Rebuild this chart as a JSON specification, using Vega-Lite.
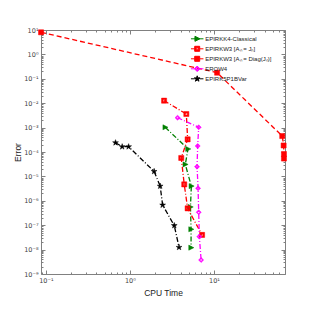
{
  "$schema": "https://vega.github.io/schema/vega-lite/v6.json",
  "width": 244,
  "height": 244,
  "autosize": {"type": "none"},
  "padding": {"left": 41, "top": 30, "right": 30, "bottom": 41},
  "background": "white",
  "config": {
    "view": {"stroke": "#808080", "strokeWidth": 1},
    "font": "Liberation Sans",
    "legend": {"padding": 0, "rowPadding": 0, "labelOffset": 5, "symbolSize": 25, "labelFontSize": 6, "labelFont": "Liberation Sans", "labelColor": "#222222", "labelLimit": 300, "symbolStrokeWidth": 1}
  },
  "datasets": {
    "runs": [
      {"s": "EPIRKK4-Classical", "i": 1, "t": 2.63, "e": 1.03e-3},
      {"s": "EPIRKK4-Classical", "i": 2, "t": 4.91, "e": 1.33e-4},
      {"s": "EPIRKK4-Classical", "i": 3, "t": 4.56, "e": 3.1e-5},
      {"s": "EPIRKK4-Classical", "i": 4, "t": 5.38, "e": 4.0e-6},
      {"s": "EPIRKK4-Classical", "i": 5, "t": 5.25, "e": 5.6e-7},
      {"s": "EPIRKK4-Classical", "i": 6, "t": 5.34, "e": 6.8e-8},
      {"s": "EPIRKK4-Classical", "i": 7, "t": 5.34, "e": 1.2e-8},
      {"s": "EPIRKW3 [Aₙ = Jₙ]", "i": 1, "t": 2.55, "e": 1.27e-2},
      {"s": "EPIRKW3 [Aₙ = Jₙ]", "i": 2, "t": 4.69, "e": 3.6e-3},
      {"s": "EPIRKW3 [Aₙ = Jₙ]", "i": 3, "t": 4.86, "e": 3.3e-4},
      {"s": "EPIRKW3 [Aₙ = Jₙ]", "i": 4, "t": 4.08, "e": 5.7e-5},
      {"s": "EPIRKW3 [Aₙ = Jₙ]", "i": 5, "t": 4.43, "e": 4.7e-6},
      {"s": "EPIRKW3 [Aₙ = Jₙ]", "i": 6, "t": 4.86, "e": 4.9e-7},
      {"s": "EPIRKW3 [Aₙ = Jₙ]", "i": 7, "t": 7.22, "e": 4.0e-8},
      {"s": "EPIRKW3 [Aₙ = Diag(Jₙ)]", "i": 1, "t": 0.0876, "e": 8.05},
      {"s": "EPIRKW3 [Aₙ = Diag(Jₙ)]", "i": 2, "t": 10.9, "e": 0.178},
      {"s": "EPIRKW3 [Aₙ = Diag(Jₙ)]", "i": 3, "t": 64.9, "e": 4.5e-4},
      {"s": "EPIRKW3 [Aₙ = Diag(Jₙ)]", "i": 4, "t": 67.4, "e": 1.85e-4},
      {"s": "EPIRKW3 [Aₙ = Diag(Jₙ)]", "i": 5, "t": 68, "e": 8.3e-5},
      {"s": "EPIRKW3 [Aₙ = Diag(Jₙ)]", "i": 6, "t": 68, "e": 5.4e-5},
      {"s": "EROW4", "i": 1, "t": 3.69, "e": 2.55e-3},
      {"s": "EROW4", "i": 2, "t": 6.58, "e": 1.03e-3},
      {"s": "EROW4", "i": 3, "t": 6.40, "e": 1.76e-4},
      {"s": "EROW4", "i": 4, "t": 6.29, "e": 2.5e-5},
      {"s": "EROW4", "i": 5, "t": 6.47, "e": 3.25e-6},
      {"s": "EROW4", "i": 6, "t": 6.58, "e": 3.4e-7},
      {"s": "EROW4", "i": 7, "t": 6.70, "e": 3.4e-8},
      {"s": "EROW4", "i": 8, "t": 7.03, "e": 3.75e-9},
      {"s": "EPIRK5P1BVar", "i": 1, "t": 0.674, "e": 2.4e-4},
      {"s": "EPIRK5P1BVar", "i": 2, "t": 0.809, "e": 1.65e-4},
      {"s": "EPIRK5P1BVar", "i": 3, "t": 0.965, "e": 1.65e-4},
      {"s": "EPIRK5P1BVar", "i": 4, "t": 1.94, "e": 1.6e-5},
      {"s": "EPIRK5P1BVar", "i": 5, "t": 2.29, "e": 4.0e-6},
      {"s": "EPIRK5P1BVar", "i": 6, "t": 2.45, "e": 6.7e-7},
      {"s": "EPIRK5P1BVar", "i": 7, "t": 3.37, "e": 9.7e-8},
      {"s": "EPIRK5P1BVar", "i": 8, "t": 3.84, "e": 1.24e-8}
    ]
  },
  "data": {"name": "runs"},
  "layer": [
    {
      "mark": {"type": "line", "strokeWidth": 1.3, "clip": false},
      "encoding": {
        "x": {
          "field": "t", "type": "quantitative",
          "scale": {"type": "log", "domain": [0.0875, 70], "nice": false},
          "axis": {
            "orient": "bottom",
            "values": [0.09, 0.1, 0.2, 0.3, 0.4, 0.5, 0.6, 0.7, 0.8, 0.9, 1, 2, 3, 4, 5, 6, 7, 8, 9, 10, 20, 30, 40, 50, 60, 70],
            "labelExpr": "abs(log(datum.value)/LN10 - round(log(datum.value)/LN10)) < 0.001 ? '10' + (round(log(datum.value)/LN10) < 0 ? '⁻' : '') + ['⁰','¹','²','³','⁴','⁵','⁶','⁷','⁸','⁹'][abs(round(log(datum.value)/LN10))] : ''",
            "tickSize": {"condition": {"test": "abs(log(datum.value)/LN10 - round(log(datum.value)/LN10)) < 0.001", "value": -4}, "value": -2},
            "tickColor": "#808080",
            "domain": false, "grid": false,
            "labelFont": "DejaVu Sans", "labelFontSize": 6.5, "labelColor": "#444444",
            "labelPadding": 7, "labelOverlap": false, "labelFlush": false,
            "title": "CPU Time", "titleFontSize": 8.5, "titleFontWeight": "normal", "titleColor": "#222222", "titlePadding": 3
          }
        },
        "y": {
          "field": "e", "type": "quantitative",
          "scale": {"type": "log", "domain": [1e-9, 10], "nice": false},
          "axis": {
            "orient": "left",
            "values": [1e-9, 2e-9, 3e-9, 4e-9, 5e-9, 6e-9, 7e-9, 8e-9, 9e-9, 1e-8, 2e-8, 3e-8, 4e-8, 5e-8, 6e-8, 7e-8, 8e-8, 9e-8, 1e-7, 2e-7, 3e-7, 4e-7, 5e-7, 6e-7, 7e-7, 8e-7, 9e-7, 1e-6, 2e-6, 3e-6, 4e-6, 5e-6, 6e-6, 7e-6, 8e-6, 9e-6, 1e-5, 2e-5, 3e-5, 4e-5, 5e-5, 6e-5, 7e-5, 8e-5, 9e-5, 1e-4, 2e-4, 3e-4, 4e-4, 5e-4, 6e-4, 7e-4, 8e-4, 9e-4, 1e-3, 2e-3, 3e-3, 4e-3, 5e-3, 6e-3, 7e-3, 8e-3, 9e-3, 1e-2, 2e-2, 3e-2, 4e-2, 5e-2, 6e-2, 7e-2, 8e-2, 9e-2, 0.1, 0.2, 0.3, 0.4, 0.5, 0.6, 0.7, 0.8, 0.9, 1, 2, 3, 4, 5, 6, 7, 8, 9, 10],
            "labelExpr": "abs(log(datum.value)/LN10 - round(log(datum.value)/LN10)) < 0.001 ? '10' + (round(log(datum.value)/LN10) < 0 ? '⁻' : '') + ['⁰','¹','²','³','⁴','⁵','⁶','⁷','⁸','⁹'][abs(round(log(datum.value)/LN10))] : ''",
            "tickSize": {"condition": {"test": "abs(log(datum.value)/LN10 - round(log(datum.value)/LN10)) < 0.001", "value": -4}, "value": -2},
            "tickColor": "#808080",
            "domain": false, "grid": false,
            "labelFont": "DejaVu Sans", "labelFontSize": 6.5, "labelColor": "#444444",
            "labelPadding": 7, "labelOverlap": false, "labelFlush": false,
            "title": "Error", "titleFontSize": 8.5, "titleFontWeight": "normal", "titleColor": "#222222", "titlePadding": 1
          }
        },
        "order": {"field": "i", "type": "quantitative"},
        "color": {
          "field": "s", "type": "nominal", "legend": null,
          "scale": {"domain": ["EPIRKK4-Classical", "EPIRKW3 [Aₙ = Jₙ]", "EPIRKW3 [Aₙ = Diag(Jₙ)]", "EROW4", "EPIRK5P1BVar"], "range": ["#008000", "#ff0000", "#ff0000", "#ff00ff", "#000000"]}
        },
        "strokeDash": {
          "field": "s", "type": "nominal", "legend": null,
          "scale": {"domain": ["EPIRKK4-Classical", "EPIRKW3 [Aₙ = Jₙ]", "EPIRKW3 [Aₙ = Diag(Jₙ)]", "EROW4", "EPIRK5P1BVar"], "range": [[5, 2, 1, 2], [5, 2, 1, 2], [5, 3], [5, 2, 1, 2], [5, 2, 1, 2]]}
        }
      }
    },
    {
      "mark": {"type": "point", "filled": true, "opacity": 1, "strokeWidth": 0.5, "clip": false},
      "encoding": {
        "x": {
          "field": "t", "type": "quantitative",
          "axis": {
            "orient": "top",
            "values": [0.09, 0.1, 0.2, 0.3, 0.4, 0.5, 0.6, 0.7, 0.8, 0.9, 1, 2, 3, 4, 5, 6, 7, 8, 9, 10, 20, 30, 40, 50, 60, 70],
            "labels": false, "title": null, "domain": false, "grid": false, "tickColor": "#808080",
            "tickSize": {"condition": {"test": "abs(log(datum.value)/LN10 - round(log(datum.value)/LN10)) < 0.001", "value": -4}, "value": -2}
          }
        },
        "y": {
          "field": "e", "type": "quantitative",
          "axis": {
            "orient": "right",
            "values": [1e-9, 2e-9, 3e-9, 4e-9, 5e-9, 6e-9, 7e-9, 8e-9, 9e-9, 1e-8, 2e-8, 3e-8, 4e-8, 5e-8, 6e-8, 7e-8, 8e-8, 9e-8, 1e-7, 2e-7, 3e-7, 4e-7, 5e-7, 6e-7, 7e-7, 8e-7, 9e-7, 1e-6, 2e-6, 3e-6, 4e-6, 5e-6, 6e-6, 7e-6, 8e-6, 9e-6, 1e-5, 2e-5, 3e-5, 4e-5, 5e-5, 6e-5, 7e-5, 8e-5, 9e-5, 1e-4, 2e-4, 3e-4, 4e-4, 5e-4, 6e-4, 7e-4, 8e-4, 9e-4, 1e-3, 2e-3, 3e-3, 4e-3, 5e-3, 6e-3, 7e-3, 8e-3, 9e-3, 1e-2, 2e-2, 3e-2, 4e-2, 5e-2, 6e-2, 7e-2, 8e-2, 9e-2, 0.1, 0.2, 0.3, 0.4, 0.5, 0.6, 0.7, 0.8, 0.9, 1, 2, 3, 4, 5, 6, 7, 8, 9, 10],
            "labels": false, "title": null, "domain": false, "grid": false, "tickColor": "#808080",
            "tickSize": {"condition": {"test": "abs(log(datum.value)/LN10 - round(log(datum.value)/LN10)) < 0.001", "value": -4}, "value": -2}
          }
        },
        "fill": {
          "field": "s", "type": "nominal", "legend": null,
          "scale": {"domain": ["EPIRKK4-Classical", "EPIRKW3 [Aₙ = Jₙ]", "EPIRKW3 [Aₙ = Diag(Jₙ)]", "EROW4", "EPIRK5P1BVar"], "range": ["#008000", "#ff0000", "#ff0000", "#ff00ff", "#000000"]}
        },
        "stroke": {
          "field": "s", "type": "nominal", "legend": null,
          "scale": {"domain": ["EPIRKK4-Classical", "EPIRKW3 [Aₙ = Jₙ]", "EPIRKW3 [Aₙ = Diag(Jₙ)]", "EROW4", "EPIRK5P1BVar"], "range": ["#008000", "#ff0000", "#ff0000", "#ff00ff", "#000000"]}
        },
        "shape": {
          "field": "s", "type": "nominal", "legend": null,
          "scale": {"domain": ["EPIRKK4-Classical", "EPIRKW3 [Aₙ = Jₙ]", "EPIRKW3 [Aₙ = Diag(Jₙ)]", "EROW4", "EPIRK5P1BVar"],
            "range": [
              "M-0.9,-1L1.1,0L-0.9,1Z",
              "M-1,-1L1,-1L1,1L-1,1ZM-0.35,-0.35L-0.35,0.35L0.35,0.35L0.35,-0.35Z",
              "M-1,-1L1,-1L1,1L-1,1Z",
              "M0,-1L1,0L0,1L-1,0ZM0,-0.45L-0.45,0L0,0.45L0.45,0Z",
              "M0,-1.2L0.27,-0.37L1.14,-0.37L0.44,0.14L0.71,0.97L0,0.46L-0.71,0.97L-0.44,0.14L-1.14,-0.37L-0.27,-0.37Z"
            ]}
        },
        "size": {"value": 26}
      }
    },
    {
      "transform": [{"filter": "false"}],
      "mark": {"type": "point", "filled": true, "opacity": 1, "strokeWidth": 1},
      "encoding": {
        "fill": {
          "field": "s", "type": "nominal",
          "scale": {"domain": ["EPIRKK4-Classical", "EPIRKW3 [Aₙ = Jₙ]", "EPIRKW3 [Aₙ = Diag(Jₙ)]", "EROW4", "EPIRK5P1BVar"], "range": ["#008000", "#ff0000", "#ff0000", "#ff00ff", "#000000"]},
          "legend": {"orient": "none", "legendX": 153.2, "legendY": 5.8, "title": null}
        },
        "stroke": {
          "field": "s", "type": "nominal",
          "scale": {"domain": ["EPIRKK4-Classical", "EPIRKW3 [Aₙ = Jₙ]", "EPIRKW3 [Aₙ = Diag(Jₙ)]", "EROW4", "EPIRK5P1BVar"], "range": ["#008000", "#ff0000", "#ff0000", "#ff00ff", "#000000"]},
          "legend": {"orient": "none", "legendX": 153.2, "legendY": 5.8, "title": null}
        },
        "shape": {
          "field": "s", "type": "nominal",
          "scale": {"domain": ["EPIRKK4-Classical", "EPIRKW3 [Aₙ = Jₙ]", "EPIRKW3 [Aₙ = Diag(Jₙ)]", "EROW4", "EPIRK5P1BVar"],
            "range": [
              "M-2.5,0L-0.8,0M0.9,0L2.5,0M-0.9,-1L1.1,0L-0.9,1Z",
              "M-2.5,0L-1,0M1,0L2.5,0M-1,-1L1,-1L1,1L-1,1ZM-0.4,-0.4L-0.4,0.4L0.4,0.4L0.4,-0.4Z",
              "M-2.5,0L-1,0M1,0L2.5,0M-1,-1L1,-1L1,1L-1,1Z",
              "M-2.5,0L-1,0M1,0L2.5,0M0,-1.1L1.1,0L0,1.1L-1.1,0ZM0,-0.5L-0.5,0L0,0.5L0.5,0Z",
              "M-2.5,0L-1,0M1,0L2.5,0M0,-1.2L0.27,-0.37L1.14,-0.37L0.44,0.14L0.71,0.97L0,0.46L-0.71,0.97L-0.44,0.14L-1.14,-0.37L-0.27,-0.37Z"
            ]},
          "legend": {"orient": "none", "legendX": 153.2, "legendY": 5.8, "title": null}
        }
      }
    }
  ],
  "resolve": {
    "scale": {"shape": "independent", "fill": "independent", "stroke": "independent"},
    "axis": {"x": "independent", "y": "independent"}
  }
}
